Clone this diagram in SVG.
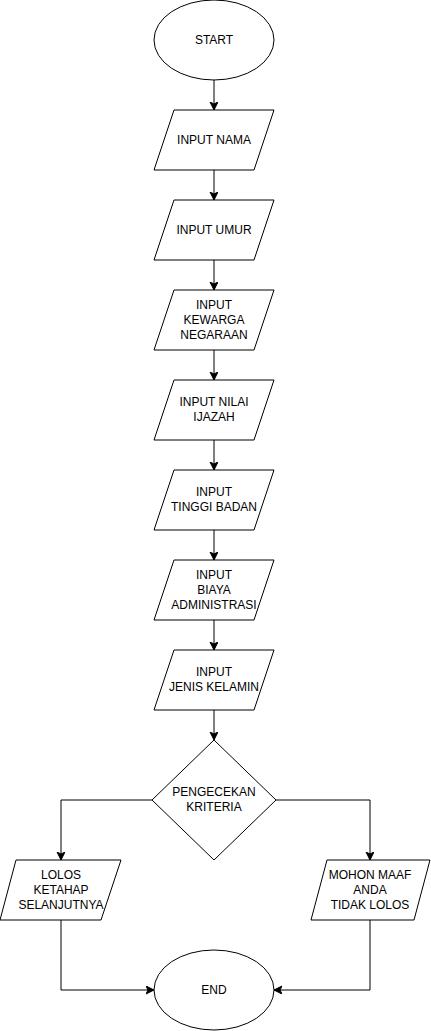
<svg xmlns="http://www.w3.org/2000/svg" width="431" height="1031" viewBox="0 0 431 1031">
<style>
.s{fill:#fff;stroke:#000;stroke-width:1}
.c{fill:none;stroke:#000;stroke-width:1}
text{font-family:"Liberation Sans",Arial,sans-serif;font-size:12px;fill:#000;text-anchor:middle}
</style>
<defs>
<marker id="a" markerWidth="10" markerHeight="10" refX="8" refY="4" orient="auto" markerUnits="userSpaceOnUse">
<path d="M0,0 L8,4 L0,8 L2,4 z" fill="#000" stroke="#000" stroke-width="1"/>
</marker>
</defs>
<rect width="431" height="1031" fill="#fff"/>
<g id="connectors">
<path class="c" d="M214,80 V110" marker-end="url(#a)"/>
<path class="c" d="M214,170 V200" marker-end="url(#a)"/>
<path class="c" d="M214,260 V290" marker-end="url(#a)"/>
<path class="c" d="M214,350 V380" marker-end="url(#a)"/>
<path class="c" d="M214,440 V470" marker-end="url(#a)"/>
<path class="c" d="M214,530 V560" marker-end="url(#a)"/>
<path class="c" d="M214,620 V650" marker-end="url(#a)"/>
<path class="c" d="M214,710 V740" marker-end="url(#a)"/>
<path class="c" d="M152,800 H61 V860" marker-end="url(#a)"/>
<path class="c" d="M276,800 H370 V860" marker-end="url(#a)"/>
<path class="c" d="M61,920 V990 H154" marker-end="url(#a)"/>
<path class="c" d="M370,920 V990 H274" marker-end="url(#a)"/>
</g>
<g id="start">
<ellipse class="s" cx="214" cy="40" rx="60" ry="40"/>
<text x="214" y="44">START</text>
</g>
<g id="input-nama">
<path class="s" d="M174,110 H274 L254,170 H154 Z"/>
<text x="214" y="144">INPUT NAMA</text>
</g>
<g id="input-umur">
<path class="s" d="M174,200 H274 L254,260 H154 Z"/>
<text x="214" y="234">INPUT UMUR</text>
</g>
<g id="input-kewarganegaraan">
<path class="s" d="M174,290 H274 L254,350 H154 Z"/>
<text x="214" y="309">INPUT</text>
<text x="214" y="324">KEWARGA</text>
<text x="214" y="339">NEGARAAN</text>
</g>
<g id="input-nilai">
<path class="s" d="M174,380 H274 L254,440 H154 Z"/>
<text x="214" y="406">INPUT NILAI</text>
<text x="214" y="421">IJAZAH</text>
</g>
<g id="input-tinggi">
<path class="s" d="M174,470 H274 L254,530 H154 Z"/>
<text x="214" y="496">INPUT</text>
<text x="214" y="511">TINGGI BADAN</text>
</g>
<g id="input-biaya">
<path class="s" d="M174,560 H274 L254,620 H154 Z"/>
<text x="214" y="579">INPUT</text>
<text x="214" y="594">BIAYA</text>
<text x="214" y="609">ADMINISTRASI</text>
</g>
<g id="input-jenis">
<path class="s" d="M174,650 H274 L254,710 H154 Z"/>
<text x="214" y="676">INPUT</text>
<text x="214" y="691">JENIS KELAMIN</text>
</g>
<g id="pengecekan">
<path class="s" d="M214,740 L276,800 L214,860 L152,800 Z"/>
<text x="214" y="796">PENGECEKAN</text>
<text x="214" y="811">KRITERIA</text>
</g>
<g id="lolos">
<path class="s" d="M16,860 H121 L101,920 H0 Z"/>
<text x="61" y="879">LOLOS</text>
<text x="61" y="894">KETAHAP</text>
<text x="61" y="909">SELANJUTNYA</text>
</g>
<g id="tidak-lolos">
<path class="s" d="M327,860 H430 L414,920 H311 Z"/>
<text x="370" y="879">MOHON MAAF</text>
<text x="370" y="894">ANDA</text>
<text x="370" y="909">TIDAK LOLOS</text>
</g>
<g id="end">
<ellipse class="s" cx="214" cy="990" rx="60" ry="40"/>
<text x="214" y="994">END</text>
</g>
</svg>
